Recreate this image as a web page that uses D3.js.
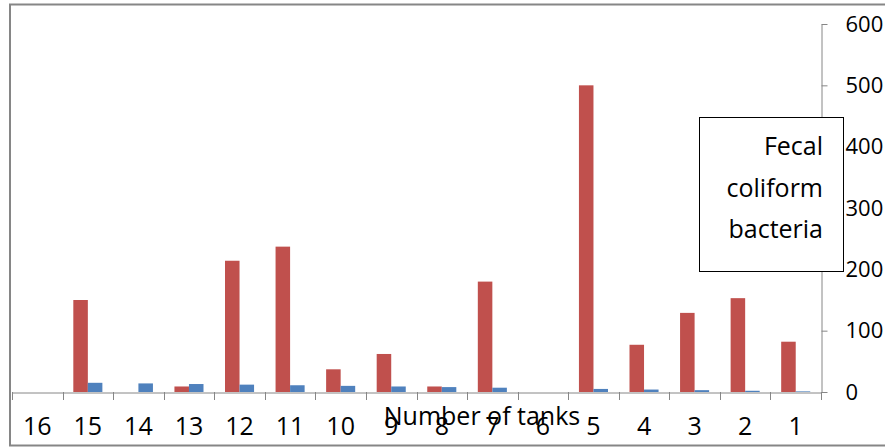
<!DOCTYPE html>
<html>
<head>
<meta charset="utf-8">
<script src="https://cdn.jsdelivr.net/npm/d3@7"></script>
<style>
  html, body { margin: 0; padding: 0; background: #fff; }
  svg { display: block; font-family: "Open Sans", "Noto Sans", sans-serif; }
</style>
</head>
<body>
<svg id="chart" width="885" height="448"></svg>
<script>
// Tanks, listed in the order they appear along the axis
const tanks = ["16", "15", "14", "13", "12", "11", "10", "9", "8", "7", "6", "5", "4", "3", "2", "1"];
// Fecal coliform counts per tank
const fecalColiform = [0, 150, 0, 9, 214, 237, 37, 62, 9, 180, 0, 500, 77, 129, 153, 82];
// Second series per tank
const secondSeries = [0, 15, 14, 13, 12, 11, 10, 9, 8, 7, 0, 5, 4, 3, 2, 1];
const yTicks = [0, 100, 200, 300, 400, 500, 600];
const seriesKeys = ["fecal", "second"];
const seriesColors = { fecal: "#C0504D", second: "#4F81BD" };
const legendLines = ["Fecal", "coliform", "bacteria"];
const xTitle = "Number of tanks";

const rows = tanks.map((t, i) => ({ tank: t, fecal: fecalColiform[i], second: secondSeries[i] }));

const svg = d3.select("#chart");
const axisColor = "#868686";

// outer chart frame
svg.append("rect")
  .attr("x", 10).attr("y", 4.5)
  .attr("width", 900).attr("height", 441)
  .attr("fill", "#fff")
  .attr("stroke", axisColor).attr("stroke-width", 2);

const x = d3.scaleBand().domain(tanks).range([12, 821]).padding(0);
const x1 = d3.scaleBand().domain(seriesKeys).range([0, x.bandwidth()]).paddingInner(0).paddingOuter(0.74);
const y = d3.scaleLinear().domain([0, 600]).range([392, 24]);

// bars
const groups = svg.append("g").selectAll("g")
  .data(rows).join("g")
  .attr("transform", d => `translate(${x(d.tank)},0)`);

groups.selectAll("rect")
  .data(d => seriesKeys.map(k => ({ key: k, value: d[k] })))
  .join("rect")
  .attr("x", d => x1(d.key))
  .attr("width", x1.bandwidth())
  .attr("y", d => y(d.value))
  .attr("height", d => y(0) - y(d.value))
  .attr("fill", d => seriesColors[d.key]);

// value axis on the right
const yAxis = svg.append("g")
  .attr("transform", "translate(821.5,0)")
  .call(d3.axisRight(y).tickValues(yTicks).tickSize(6).tickSizeOuter(0).tickPadding(18));
yAxis.select(".domain").attr("stroke", axisColor);
yAxis.selectAll(".tick line").attr("stroke", axisColor);
yAxis.selectAll("text").attr("font-size", 22).attr("fill", "#000")
  .attr("font-family", "'Open Sans', sans-serif");

// category axis
const xAxis = svg.append("g")
  .attr("transform", "translate(0,392.5)")
  .call(d3.axisBottom(x).tickSize(0).tickSizeOuter(0).tickPadding(25));
xAxis.select(".domain").attr("stroke", axisColor);
xAxis.selectAll("text").attr("font-size", 25).attr("fill", "#000")
  .attr("font-family", "'Open Sans', sans-serif");

// tick marks on the category boundaries
const bounds = d3.range(tanks.length + 1).map(i => x.range()[0] + i * x.step());
svg.append("g").selectAll("line")
  .data(bounds).join("line")
  .attr("x1", d => Math.round(d) + 0.5).attr("x2", d => Math.round(d) + 0.5)
  .attr("y1", 392).attr("y2", 400)
  .attr("stroke", axisColor);

// axis title
svg.append("text")
  .attr("x", 482).attr("y", 425)
  .attr("text-anchor", "middle")
  .attr("font-size", 25)
  .text(xTitle);

// legend box
svg.append("rect")
  .attr("x", 699.5).attr("y", 117.5)
  .attr("width", 144).attr("height", 154)
  .attr("fill", "#fff").attr("stroke", "#000");
svg.append("g").selectAll("text")
  .data(legendLines).join("text")
  .attr("x", 823)
  .attr("y", (d, i) => 155 + i * 41.5)
  .attr("text-anchor", "end")
  .attr("font-size", 25)
  .text(d => d);
</script>
</body>
</html>
